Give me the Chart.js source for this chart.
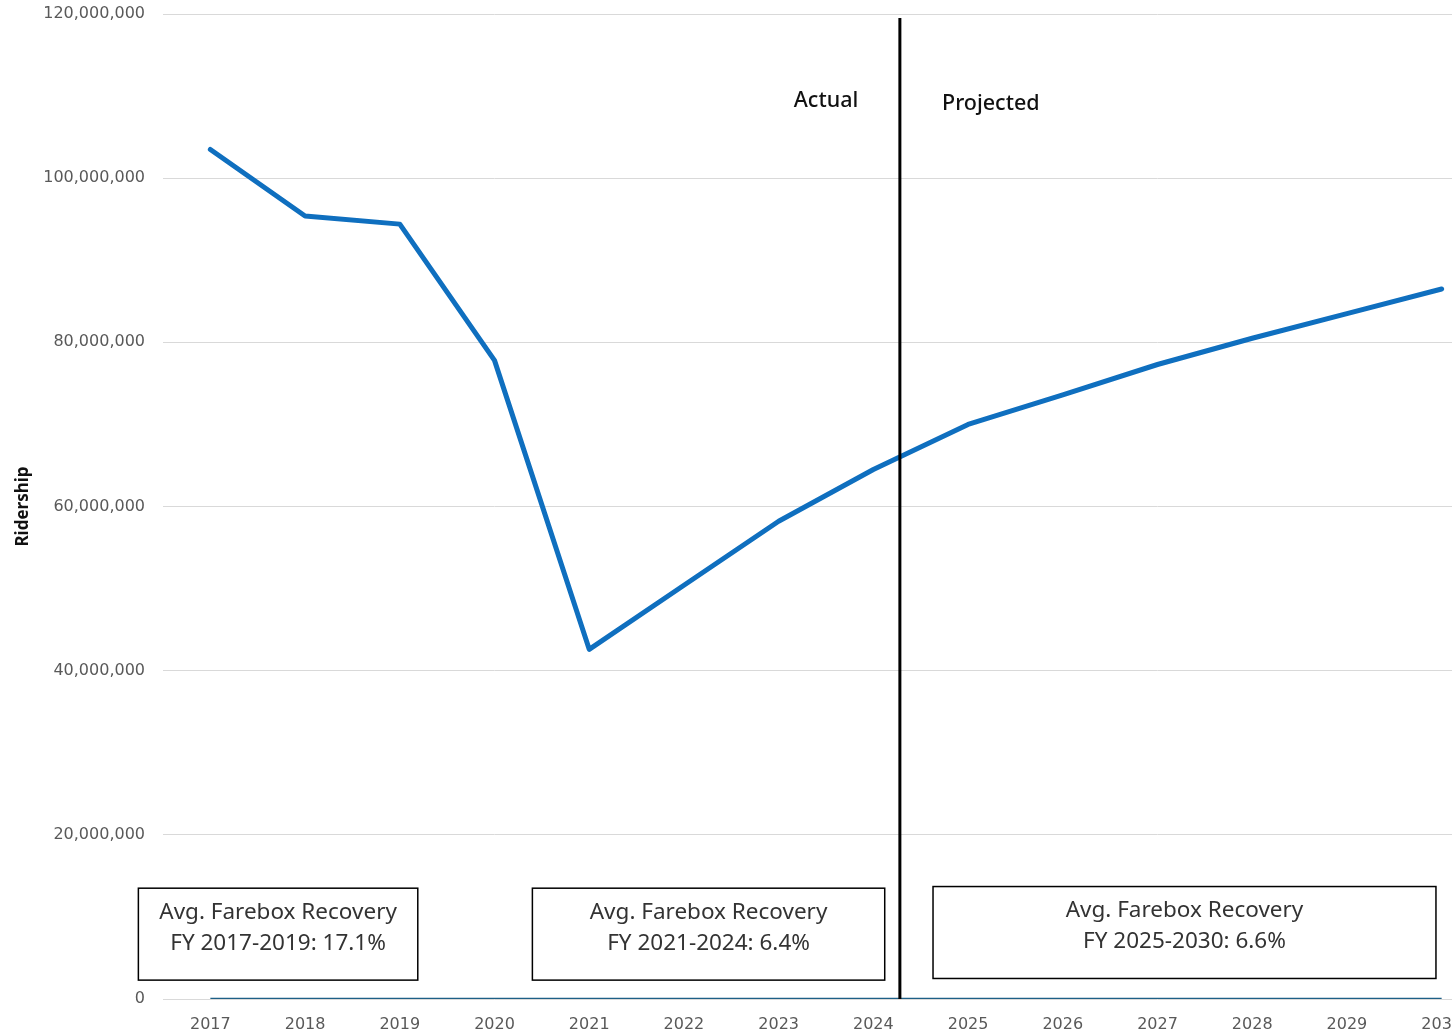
<!DOCTYPE html>
<html lang="en">
  <head>
    <title>Ridership</title>
    <meta charset="utf-8">
    <style>
      body { margin: 0; overflow: hidden; background: #fff; }
      #wrap { position: absolute; left: 0; top: 0; width: 1492px; height: 1032px; }
    </style>
  </head>
  <body>
    <div id="wrap">
      <canvas id="myChart"></canvas>
    </div>

    <script src="https://cdn.jsdelivr.net/npm/chart.js@4.4.1/dist/chart.umd.min.js"></script>
    <script>
    // data
    const years = ['2017', '2018', '2019', '2020', '2021', '2022', '2023', '2024', '2025', '2026', '2027', '2028', '2029', '2030']
    const ridership = [103500000, 95400000, 94400000, 77800000, 42600000, 50400000, 58200000, 64500000, 70000000, 73600000, 77300000, 80500000, 83500000, 86500000]
    // farebox recovery % (sits on the zero line at this scale)
    const farebox = [17.4, 17.0, 16.9, 12.0, 5.6, 6.2, 6.8, 7.0, 6.4, 6.5, 6.6, 6.6, 6.7, 6.8]
    const yTicks = [0, 20000000, 40000000, 60000000, 80000000, 100000000, 120000000]
    const dividerAt = 7.28   // between 2024 and 2025, in category steps
    const phaseLabels = ['Actual', 'Projected']
    const boxLines = [
      ['Avg. Farebox Recovery', 'FY 2017-2019: 17.1%'],
      ['Avg. Farebox Recovery', 'FY 2021-2024: 6.4%'],
      ['Avg. Farebox Recovery', 'FY 2025-2030: 6.6%']
    ]

    const FONT = '"Noto Sans", "Liberation Sans", sans-serif'
    const TICK_FONT = '"DejaVu Sans", sans-serif'

    // x in category steps -> pixel
    function xAt(scale, v) {
      const a = scale.getPixelForValue(0)
      const b = scale.getPixelForValue(1)
      return a + (b - a) * v
    }

    const extras = {
      id: 'extras',
      afterDatasetsDraw(chart) {
        const ctx = chart.ctx
        const x = chart.scales.x
        const y = chart.scales.y
        const area = chart.chartArea
        ctx.save()

        // actual / projected divider
        const dx = xAt(x, dividerAt)
        ctx.strokeStyle = '#000'
        ctx.lineWidth = 3
        ctx.beginPath()
        ctx.moveTo(dx, area.top + 4)
        ctx.lineTo(dx, area.bottom)
        ctx.stroke()

        ctx.fillStyle = '#111'
        ctx.font = '500 21.5px ' + FONT
        ctx.textAlign = 'center'
        ctx.textBaseline = 'middle'
        ctx.fillText(phaseLabels[0], xAt(x, 6.5), y.getPixelForValue(109400000))
        ctx.fillText(phaseLabels[1], xAt(x, 8.24), y.getPixelForValue(109100000))

        // farebox boxes
        const boxes = [
          [-0.76, 2.19, 13500000, 2300000],
          [3.40, 7.12, 13500000, 2300000],
          [7.63, 12.94, 13700000, 2500000]
        ]
        boxes.forEach((b, i) => {
          const l = xAt(x, b[0]), r = xAt(x, b[1])
          const t = y.getPixelForValue(b[2]), btm = y.getPixelForValue(b[3])
          ctx.fillStyle = '#fff'
          ctx.fillRect(l, t, r - l, btm - t)
          ctx.strokeStyle = '#000'
          ctx.lineWidth = 1.5
          ctx.strokeRect(l, t, r - l, btm - t)
          ctx.fillStyle = '#333'
          ctx.font = '22.5px ' + FONT
          ctx.fillText(boxLines[i][0], (l + r) / 2, t + 24)
          ctx.fillText(boxLines[i][1], (l + r) / 2, t + 55)
        })
        ctx.restore()
      }
    }

    const ctx = document.getElementById('myChart').getContext('2d')
    window.myChart = new Chart(ctx, {
      type: 'line',
      data: {
        labels: years,
        datasets: [{
          label: 'Ridership',
          data: ridership,
          borderColor: '#0f6fbf',
          borderWidth: 5,
          borderJoinStyle: 'round',
          borderCapStyle: 'round',
          pointRadius: 0,
          tension: 0
        }, {
          label: 'Farebox Recovery',
          data: farebox,
          borderColor: '#1d5f86',
          borderWidth: 2.5,
          pointRadius: 0,
          tension: 0
        }]
      },
      options: {
        responsive: true,
        maintainAspectRatio: false,
        animation: false,
        layout: { padding: { top: 0, right: 3, left: 0, bottom: 0 } },
        plugins: {
          legend: { display: false },
          tooltip: { enabled: false }
        },
        scales: {
          x: {
            offset: true,
            grid: { display: false, drawTicks: false },
            border: { display: false },
            ticks: {
              color: '#595959',
              font: { family: TICK_FONT, size: 16 },
              padding: 16,
              maxRotation: 0,
              autoSkip: false
            },
            afterFit(scale) { scale.height = 33 }
          },
          y: {
            min: 0,
            max: 120000000,
            afterBuildTicks(scale) { scale.ticks = yTicks.map(v => ({ value: v })) },
            grid: { color: '#d9d9d9', lineWidth: 1, drawTicks: false },
            border: { display: false },
            title: {
              display: true,
              text: 'Ridership',
              color: '#111',
              font: { family: FONT, size: 17, weight: 'bold' },
              padding: { top: 13, bottom: 0 }
            },
            ticks: {
              color: '#595959',
              font: { family: TICK_FONT, size: 16 },
              padding: 18,
              callback: v => v.toLocaleString('en-US')
            },
            afterFit(scale) {
              scale.width = 163
              scale.paddingTop = 14
              scale.paddingBottom = 0
            }
          }
        }
      },
      plugins: [extras]
    })
    </script>
  </body>
</html>
